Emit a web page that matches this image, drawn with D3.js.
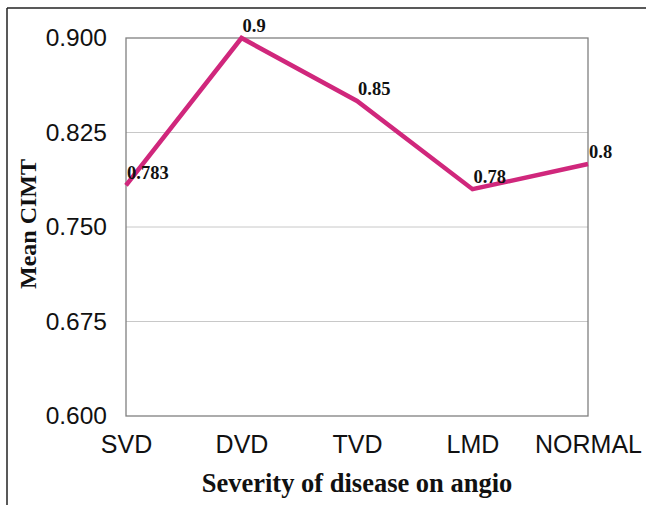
<!DOCTYPE html>
<html><head><meta charset="utf-8">
<script src="https://cdn.jsdelivr.net/npm/d3@7"></script>
<style>body{margin:0;background:#fff}svg{display:block}</style>
</head><body>
<svg id="c" width="646" height="505"></svg>
<script>
const categories = ["SVD","DVD","TVD","LMD","NORMAL"];
const values = [0.783, 0.9, 0.85, 0.78, 0.8];
const valueLabels = ["0.783","0.9","0.85","0.78","0.8"];
const yTicks = [0.600, 0.675, 0.750, 0.825, 0.900];

const svg = d3.select("#c");
const m = {l:126, r:588, t:38, b:416};

// outer frame (top and left)
svg.append("line").attr("x1",7).attr("x2",646).attr("y1",8).attr("y2",8).attr("stroke","#222").attr("stroke-width",1.5);
svg.append("line").attr("x1",7).attr("x2",7).attr("y1",8).attr("y2",505).attr("stroke","#222").attr("stroke-width",1.5);

const x = d3.scalePoint().domain(categories).range([m.l, m.r]);
const y = d3.scaleLinear().domain([0.6, 0.9]).range([m.b, m.t]);

// gridlines
svg.append("g").selectAll("line").data(yTicks.filter(d=>d>0.6 && d<0.9)).join("line")
  .attr("x1",m.l).attr("x2",m.r).attr("y1",d=>y(d)).attr("y2",d=>y(d))
  .attr("stroke","#c8c8c8").attr("stroke-width",1);

// plot frame
svg.append("rect").attr("x",m.l).attr("y",m.t).attr("width",m.r-m.l).attr("height",m.b-m.t)
  .attr("fill","none").attr("stroke","#808080").attr("stroke-width",1.3);

// y axis
const yAxis = d3.axisLeft(y).tickValues(yTicks).tickFormat(d3.format(".3f")).tickSize(0).tickPadding(19);
const ga = svg.append("g").attr("transform",`translate(${m.l},0)`).call(yAxis);
ga.select(".domain").remove();
ga.selectAll("text").attr("font-family","Liberation Sans, Arial, sans-serif").attr("font-size",24.5).attr("fill","#111");

// x axis
const xAxis = d3.axisBottom(x).tickSize(0).tickPadding(19);
const gx = svg.append("g").attr("transform",`translate(0,${m.b})`).call(xAxis);
gx.select(".domain").remove();
gx.selectAll("text").attr("font-family","Liberation Sans, Arial, sans-serif").attr("font-size",25).attr("fill","#111");

// line
const line = d3.line().x((d,i)=>x(categories[i])).y(d=>y(d));
svg.append("path").datum(values).attr("d",line).attr("fill","none")
  .attr("stroke","#d0277c").attr("stroke-width",4.5).attr("stroke-linejoin","miter");

// value labels
svg.append("g").selectAll("text").data(values).join("text")
  .attr("x",(d,i)=>x(categories[i])+1).attr("y",d=>y(d)-6)
  .attr("font-family","Liberation Serif, Times New Roman, serif").attr("font-weight","bold")
  .attr("font-size",18.5).attr("fill","#111").text((d,i)=>valueLabels[i]);

// axis titles
svg.append("text").attr("x",(m.l+m.r)/2).attr("y",492).attr("text-anchor","middle")
  .attr("font-family","Liberation Serif, Times New Roman, serif").attr("font-weight","bold")
  .attr("font-size",26.5).attr("fill","#111").text("Severity of disease on angio");
svg.append("text").attr("transform",`translate(36,224) rotate(-90)`).attr("text-anchor","middle")
  .attr("font-family","Liberation Serif, Times New Roman, serif").attr("font-weight","bold")
  .attr("font-size",24).attr("fill","#111").text("Mean CIMT");
</script>
</body></html>
